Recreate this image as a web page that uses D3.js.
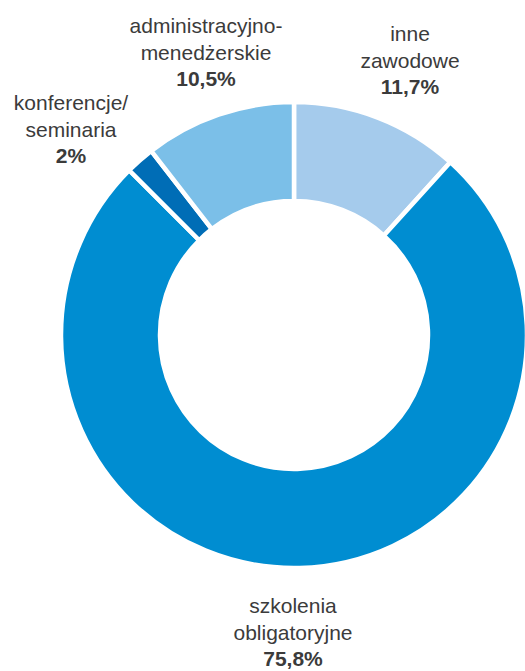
<!DOCTYPE html>
<html>
<head>
<meta charset="utf-8">
<script src="https://d3js.org/d3.v7.min.js"></script>
<style>
  body { margin: 0; background: #fff; }
</style>
</head>
<body>
<div id="chart"></div>
<script>
// data, clockwise from 12 o'clock
const categories = ["inne zawodowe", "szkolenia obligatoryjne", "konferencje/ seminaria", "administracyjno- menedżerskie"];
const labelLines = [["inne", "zawodowe"], ["szkolenia", "obligatoryjne"], ["konferencje/", "seminaria"], ["administracyjno-", "menedżerskie"]];
const values = [11.7, 75.8, 2, 10.5];
const colors = ["#a5cbec", "#008dd1", "#006db6", "#7bbfe8"];

// where each label block sits (center x, first baseline)
const labelPos = [[410, 41], [293, 613], [71, 110], [206, 33]];

let width = 525,
  height = 671,
  cx = 294,
  cy = 335,
  outerR = 233,
  innerR = 134;

let svg = d3.select('#chart').append('svg')
  .attr('width', width)
  .attr('height', height);

let pie = d3.pie().sort(null).value(d => d);
let arc = d3.arc().innerRadius(innerR).outerRadius(outerR);

let g = svg.append('g').attr('transform', `translate(${cx},${cy})`);

g.selectAll('path')
  .data(pie(values))
  .enter()
  .append('path')
  .attr('d', arc)
  .attr('fill', (d, i) => colors[i])
  .attr('stroke', '#fff')
  .attr('stroke-width', 4.5)
  .attr('stroke-linejoin', 'miter');

let fmt = v => String(v).replace('.', ',') + '%';

let labels = svg.selectAll('.label')
  .data(categories)
  .enter()
  .append('text')
  .attr('class', 'label')
  .attr('text-anchor', 'middle')
  .style('font-family', 'Liberation Sans, Arial, sans-serif')
  .style('font-size', '21px')
  .style('fill', '#3b3b3b');

labels.each(function (d, i) {
  let t = d3.select(this);
  let [x, y] = labelPos[i];
  labelLines[i].forEach((line, j) => {
    t.append('tspan').attr('x', x).attr('y', y + j * 26.5).text(line);
  });
  t.append('tspan')
    .attr('x', x)
    .attr('y', y + labelLines[i].length * 26.5)
    .style('font-weight', 'bold')
    .text(fmt(values[i]));
});
</script>
</body>
</html>
